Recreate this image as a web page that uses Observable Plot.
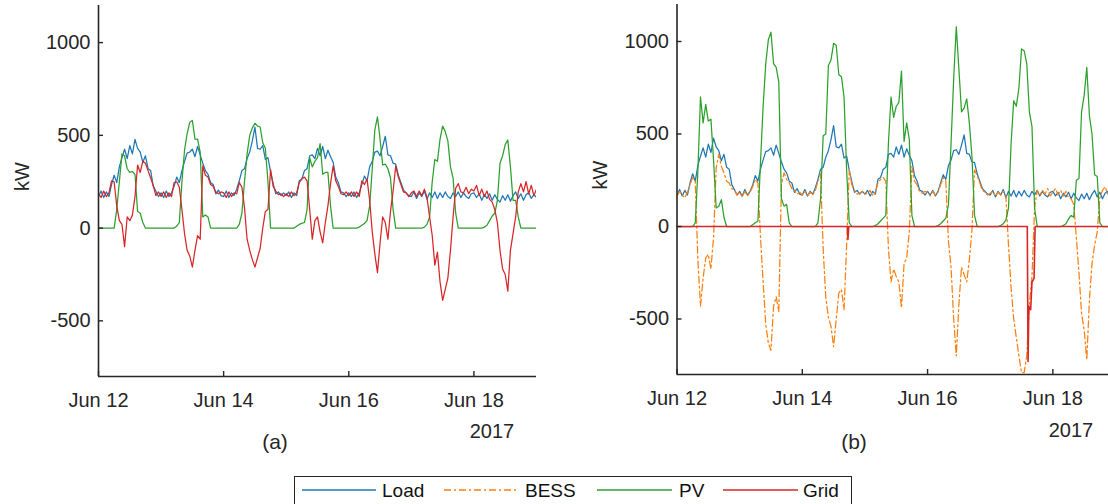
<!DOCTYPE html>
<html><head><meta charset="utf-8">
<script src="https://cdn.jsdelivr.net/npm/d3@7"></script>
<script src="https://cdn.jsdelivr.net/npm/@observablehq/plot@0.6"></script>
<style>
html,body{margin:0;padding:0;background:#fff;}
body{width:1108px;height:504px;overflow:hidden;position:relative;font-family:"Liberation Sans",Arial,sans-serif;color:#262626;}
.abs{position:absolute;}
svg{max-width:none !important;}
.lbl{position:absolute;transform:translate(-50%,-50%);white-space:nowrap;line-height:1;}
</style></head><body>
<div id="pa" class="abs" style="left:0;top:0;width:560px"></div>
<div id="pb" class="abs" style="left:580px;top:0;width:545px"></div>
<div class="lbl" style="left:492px;top:431px;font-size:20px">2017</div>
<div class="lbl" style="left:1071px;top:430px;font-size:20px">2017</div>
<div class="lbl" style="left:275px;top:441px;font-size:21px">(a)</div>
<div class="lbl" style="left:854px;top:441px;font-size:21px">(b)</div>
<div id="legend" class="abs" style="left:294px;top:476px"></div>
<script>
// ---- data (hourly, starting 2017-06-12 00:00) ----
const seriesNames = ["Load", "BESS", "PV", "Grid"];
const seriesColors = ["#1f77b4", "#ff7f0e", "#2ca02c", "#d62728"];
const xTickLabels = ["2017-06-12", "2017-06-14", "2017-06-16", "2017-06-18"];
const yTickValues = [-500, 0, 500, 1000];

const load = [
170,200,165,195,170,235,285,245,330,380,425,375,445,400,478,430,410,355,390,320,310,225,200,170,
190,165,200,170,190,225,275,245,310,360,405,410,425,385,440,395,350,310,290,245,235,185,205,175,
170,200,165,190,175,210,255,310,320,375,410,470,545,430,425,445,370,380,305,240,185,195,175,190,
175,195,165,190,175,255,265,310,320,390,395,375,430,390,440,375,420,385,355,275,245,195,190,170,
190,170,195,165,190,235,280,255,330,360,410,415,390,440,495,395,390,350,345,285,245,205,190,175,
170,195,160,190,170,200,155,190,165,195,160,190,165,195,170,160,190,170,195,165,190,170,160,185,
190,165,185,150,180,160,185,150,180,155,140,175,150,180,145,175,195,160,185,150,180,190,160,180,165];

const pvA = [
0,0,0,0,0,0,0,100,250,400,390,320,300,305,290,90,80,30,0,0,0,0,0,0,
0,0,0,0,0,0,10,30,250,420,510,570,580,480,480,410,60,70,60,0,0,0,0,0,
0,0,0,0,0,0,20,80,250,400,500,540,565,550,545,460,430,250,0,0,0,0,0,0,
0,0,0,0,10,20,25,30,100,380,330,360,380,455,290,300,300,120,0,0,0,0,0,0,
0,0,0,0,5,15,25,40,120,320,530,600,480,340,345,320,270,100,0,0,0,0,0,0,
0,0,0,0,0,5,20,60,250,370,360,480,550,520,470,330,270,80,0,0,0,0,0,0,
0,0,0,0,5,15,40,65,80,150,350,390,450,475,330,150,150,60,0,0,0,0,0,0,0];

const gridA = [
185,165,200,170,190,255,250,120,40,20,-100,60,40,70,170,340,300,360,350,310,270,230,175,195,
170,195,165,190,170,245,250,220,100,-30,-120,-150,-210,-120,-40,-60,335,285,275,235,225,195,185,195,
190,165,195,170,190,185,245,220,110,-60,-120,-170,-210,-160,-110,0,90,100,315,225,200,180,185,170,
185,170,195,175,190,245,265,275,255,100,-60,40,60,-20,-80,30,120,240,335,255,225,185,180,195,
175,195,170,195,170,255,235,265,150,-20,-140,-240,-80,60,30,-60,90,200,335,275,235,195,190,170,
190,200,170,200,175,210,165,60,-40,-200,-130,-290,-390,-330,-270,-120,60,215,240,195,190,220,185,210,
200,230,175,210,170,200,155,140,100,30,-120,-220,-250,-340,-120,-30,60,195,240,195,250,185,230,175,210];

const pvB = [
0,0,0,0,0,0,0,20,300,700,560,660,570,580,360,100,110,145,50,0,0,0,0,0,
0,0,0,0,0,10,20,30,350,650,880,1010,1050,880,860,780,150,110,120,20,0,0,0,0,
0,0,0,0,0,0,20,150,490,500,870,900,990,980,820,810,700,300,20,0,0,0,0,0,
0,0,0,0,5,15,30,45,60,450,700,590,650,670,840,460,560,470,60,0,0,0,0,0,
0,0,0,0,5,15,30,45,120,450,800,1080,850,620,640,690,560,380,60,0,0,0,0,0,
0,0,0,0,5,15,35,100,450,680,650,750,960,950,880,620,540,100,0,0,0,0,0,0,
0,0,0,0,5,15,40,60,50,250,260,620,710,860,600,500,280,270,20,0,0,0,0,0,0];

const bessB = [
165,190,170,155,185,225,265,245,-180,-430,-280,-170,-150,-230,-60,315,390,325,290,245,235,205,195,170,
185,160,190,165,185,215,255,235,-60,-300,-530,-630,-670,-430,-380,-460,225,290,255,235,205,195,175,185,
170,190,165,185,170,195,245,285,-120,-380,-490,-540,-650,-500,-360,-340,-450,-100,305,225,195,175,180,190,
175,180,195,165,185,235,255,265,245,-120,-300,-230,-270,-300,-440,-200,-170,-30,325,245,225,185,180,190,
185,165,190,170,185,225,265,245,-80,-220,-500,-700,-420,-220,-260,-300,-180,-20,305,275,235,195,185,170,
180,190,165,185,170,190,165,-100,-330,-500,-600,-700,-790,-790,-700,-420,-270,100,195,170,195,175,205,165,
185,205,170,195,165,190,155,150,120,-60,-250,-470,-560,-720,-400,-200,-100,-30,155,195,215,175,205,170,190];

const gridBHours = [0, 65.3, 65.5, 65.8, 134.2, 134.5, 134.8, 135.5, 136.0, 136.8, 137.2, 168];
const gridBValues = [0, 0, -70, 0, 0, -730, -430, -450, -300, -280, 0, 0];

// ---- build ----
const t0 = Date.UTC(2017, 5, 12);
const hourly = arr => arr.map((v, i) => ({t: new Date(t0 + i * 3600e3), v}));
const gridBRows = gridBHours.map((h, i) => ({t: new Date(t0 + h * 3600e3), v: gridBValues[i]}));
const xDomain = [new Date(t0), new Date(t0 + 7 * 24 * 3600e3)];
const yDomain = [-800, 1200];
const xTicks = xTickLabels.map(s => new Date(s + "T00:00:00Z"));
const col = Object.fromEntries(seriesNames.map((n, i) => [n, seriesColors[i]]));
const fmtX = d3.utcFormat("%b %d");
const axisColor = "#262626";

function panel(lines, {width, marginLeft, marginRight, marginTop, marginBottom}) {
  return Plot.plot({
    width, height: 420, marginLeft, marginRight, marginTop, marginBottom,
    style: {fontFamily: "'Liberation Sans', Arial, sans-serif", fontSize: "20px", color: axisColor, background: "transparent", overflow: "visible"},
    x: {type: "utc", domain: xDomain},
    y: {domain: yDomain},
    marks: [
      ...lines.map(([rows, name, dash, sw]) => Plot.line(rows, {x: "t", y: "v", stroke: col[name], strokeWidth: sw || 1.25, strokeDasharray: dash, clip: true})),
      Plot.ruleX([xDomain[0]], {stroke: axisColor, strokeWidth: 1.6}),
      Plot.ruleY([yDomain[0]], {stroke: axisColor, strokeWidth: 1.6}),
      Plot.axisY({ticks: yTickValues, tickSize: -5, tickPadding: 13, tickFormat: d => String(d), label: null, strokeWidth: 1.4}),
      Plot.axisX({ticks: xTicks, tickSize: -5, tickPadding: 21, tickFormat: fmtX, label: null, strokeWidth: 1.4}),
      Plot.text(["kW"], {frameAnchor: "left", rotate: -90, dx: -76, fontSize: 20, fill: axisColor})
    ]
  });
}

document.getElementById("pa").append(panel([
  [hourly(load), "Load"],
  [hourly(pvA), "PV"],
  [hourly(gridA), "Grid"]
], {width: 560, marginLeft: 98, marginRight: 24, marginTop: 5, marginBottom: 44}));

document.getElementById("pb").append(panel([
  [hourly(load), "Load"],
  [hourly(bessB), "BESS", "7,3,2,3"],
  [hourly(pvB), "PV"],
  [gridBRows, "Grid", null, 1.6]
], {width: 545, marginLeft: 96.5, marginRight: 10, marginTop: 4, marginBottom: 46}));

// legend (built with Plot marks on a small SVG)
const legendX = [[8, 82, 88], [150, 225, 231], [303, 378, 385], [429, 504, 509]];
const legendRows = seriesNames.map((n, i) => ({n, c: seriesColors[i], x1: legendX[i][0], x2: legendX[i][1], tx: legendX[i][2]}));
const NS = "http://www.w3.org/2000/svg";
const lsvg = document.createElementNS(NS, "svg");
lsvg.setAttribute("width", "560"); lsvg.setAttribute("height", "34");
lsvg.style.fontFamily = "'Liberation Sans', Arial, sans-serif";
lsvg.style.fontSize = "19px";
const mk = (tag, attrs) => { const e = document.createElementNS(NS, tag); for (const k in attrs) e.setAttribute(k, attrs[k]); lsvg.appendChild(e); return e; };
mk("rect", {x: 0.5, y: 0.5, width: 557, height: 40, fill: "#ffffff", stroke: axisColor, "stroke-width": 1});
legendRows.forEach(r => {
  const ln = mk("line", {x1: r.x1, x2: r.x2, y1: 14, y2: 14, "stroke-width": 1.4});
  ln.style.stroke = r.c;
  if (r.n === "BESS") ln.setAttribute("stroke-dasharray", "7,3,2,3");
  const tx = mk("text", {x: r.tx, y: 14, dy: "0.35em", fill: "#111111"});
  tx.textContent = r.n;
});
document.getElementById("legend").appendChild(lsvg);
</script>
</body></html>
